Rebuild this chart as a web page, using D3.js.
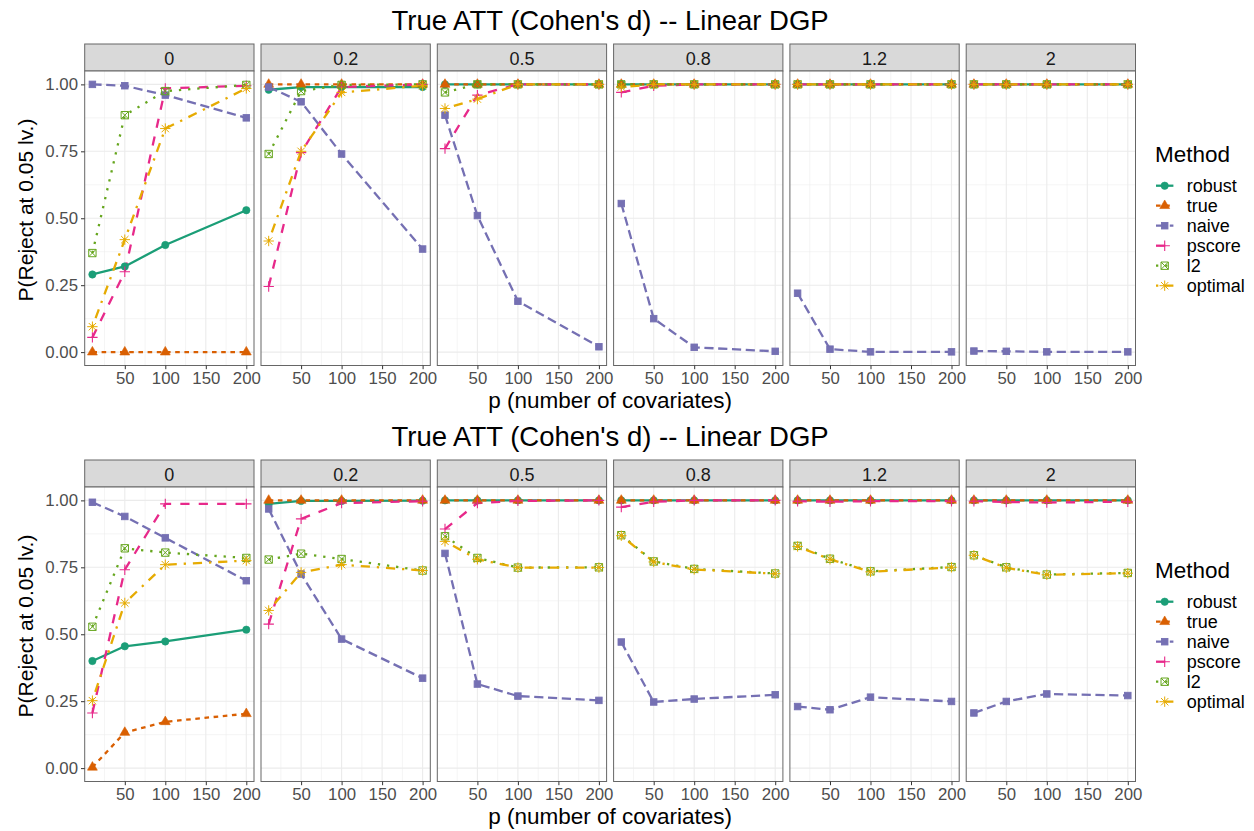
<!DOCTYPE html>
<html>
<head>
<meta charset="utf-8">
<script src="https://cdn.jsdelivr.net/npm/d3@7"></script>
<style>
  body { margin: 0; background: #ffffff; }
  svg { display: block; }
  text { font-family: "Liberation Sans", Arial, Helvetica, sans-serif; }
</style>
</head>
<body>
<svg id="chart" width="1254" height="831"></svg>
<script>
// ---- labels and categories ----
const chartTitle = "True ATT (Cohen's d) -- Linear DGP";
const xAxisTitle = "p (number of covariates)";
const yAxisTitle = "P(Reject at 0.05 lv.)";
const legendTitle = "Method";
const effectSizes = ["0", "0.2", "0.5", "0.8", "1.2", "2"];
const covariateCounts = [10, 50, 100, 200];
const xTickValues = [50, 100, 150, 200];
const xMinorValues = [25, 75, 125, 175];
const yTickValues = [0, 0.25, 0.5, 0.75, 1];
const yTickLabels = ["0.00", "0.25", "0.50", "0.75", "1.00"];
const yMinorValues = [0.125, 0.375, 0.625, 0.875];
const methods = ["robust", "true", "naive", "pscore", "l2", "optimal"];
const methodColors = ["#1B9E77", "#D95F02", "#7570B3", "#E7298A", "#66A61E", "#E6AB02"];
const methodDashes = ["solid", "22", "42", "44", "13", "1343"];
const methodShapes = ["circle", "triangle", "square", "plus", "squareX", "asterisk"];

// ---- upper figure: rejection rate, one row per effect size, one value per p ----
const upperRobust = [
  [0.29, 0.32, 0.40, 0.53],
  [0.98, 0.99, 0.99, 0.99],
  [1, 1, 1, 1], [1, 1, 1, 1], [1, 1, 1, 1], [1, 1, 1, 1]
];
const upperTrue = [
  [0, 0, 0, 0],
  [1, 1, 1, 1], [1, 1, 1, 1], [1, 1, 1, 1], [1, 1, 1, 1], [1, 1, 1, 1]
];
const upperNaive = [
  [1.00, 0.995, 0.96, 0.875],
  [0.99, 0.935, 0.74, 0.385],
  [0.885, 0.51, 0.19, 0.02],
  [0.555, 0.125, 0.018, 0.003],
  [0.22, 0.011, 0.001, 0.001],
  [0.004, 0.003, 0.001, 0.001]
];
const upperPscore = [
  [0.055, 0.30, 0.985, 0.995],
  [0.245, 0.745, 0.99, 1],
  [0.76, 0.96, 1, 1],
  [0.97, 0.995, 1, 1],
  [1, 1, 1, 1], [1, 1, 1, 1]
];
const upperL2 = [
  [0.37, 0.885, 0.975, 0.998],
  [0.74, 0.975, 0.998, 1],
  [0.97, 1, 1, 1],
  [1, 1, 1, 1], [1, 1, 1, 1], [1, 1, 1, 1]
];
const upperOptimal = [
  [0.095, 0.42, 0.835, 0.985],
  [0.415, 0.75, 0.97, 0.995],
  [0.91, 0.945, 1, 1],
  [0.99, 1, 1, 1],
  [1, 1, 1, 1], [1, 1, 1, 1]
];

// ---- lower figure ----
const lowerRobust = [
  [0.40, 0.455, 0.473, 0.517],
  [0.987, 0.998, 0.998, 0.999],
  [1, 1, 1, 1], [1, 1, 1, 1], [1, 1, 1, 1], [1, 1, 1, 1]
];
const lowerTrue = [
  [0.003, 0.133, 0.173, 0.203],
  [1, 1, 1, 1], [1, 1, 1, 1], [1, 1, 1, 1], [1, 1, 1, 1], [1, 1, 1, 1]
];
const lowerNaive = [
  [0.993, 0.94, 0.86, 0.70],
  [0.968, 0.725, 0.482, 0.336],
  [0.802, 0.314, 0.269, 0.253],
  [0.471, 0.247, 0.258, 0.274],
  [0.23, 0.218, 0.265, 0.249],
  [0.206, 0.249, 0.277, 0.271]
];
const lowerPscore = [
  [0.206, 0.741, 0.987, 0.987],
  [0.538, 0.931, 0.99, 0.997],
  [0.893, 0.99, 0.998, 1],
  [0.975, 0.995, 1, 1],
  [0.997, 0.995, 0.997, 0.997],
  [0.997, 0.994, 0.992, 0.995]
];
const lowerL2 = [
  [0.528, 0.821, 0.805, 0.785],
  [0.779, 0.801, 0.781, 0.738],
  [0.866, 0.785, 0.749, 0.75],
  [0.87, 0.772, 0.744, 0.727],
  [0.83, 0.782, 0.735, 0.751],
  [0.795, 0.75, 0.723, 0.729]
];
const lowerOptimal = [
  [0.252, 0.617, 0.76, 0.775],
  [0.589, 0.731, 0.76, 0.738],
  [0.847, 0.78, 0.749, 0.749],
  [0.868, 0.77, 0.742, 0.726],
  [0.828, 0.78, 0.733, 0.75],
  [0.795, 0.748, 0.722, 0.728]
];

const figures = [
  { offsetY: 0,   series: [upperRobust, upperTrue, upperNaive, upperPscore, upperL2, upperOptimal] },
  { offsetY: 416, series: [lowerRobust, lowerTrue, lowerNaive, lowerPscore, lowerL2, lowerOptimal] }
];

// ---- layout ----
const panelLeft = 84.7, panelW = 169.3, panelStep = 176.3;
const stripTop = 44, stripBottom = 71, panelBottom = 365.5;
const lineW = 2.3;
const shapeSize = 9.8;          // point "font size" in px
const colBorder = "#666666", colGrid = "#EBEBEB", colAxisText = "#4D4D4D";

const x = d3.scaleLinear().domain([0.5, 209.5]).range([0, panelW]);
const y = d3.scaleLinear().domain([-0.05, 1.05]).range([panelBottom, stripBottom]);

function dashArray(code) {
  if (code === "solid") return null;
  return code.split("").map(c => parseInt(c, 16) * lineW).join(" ");
}

function drawShape(g, shape, cx, cy, color) {
  const F = shapeSize;
  const s = g.append("g").attr("transform", `translate(${cx},${cy})`);
  if (shape === "circle") {
    s.append("circle").attr("r", 0.375 * F).attr("fill", color)
      .attr("stroke", color).attr("stroke-width", 0.6);
  } else if (shape === "triangle") {
    const r = 0.583 * F;
    const pts = [[0, -r], [0.866 * r, r / 2], [-0.866 * r, r / 2]];
    s.append("path").attr("d", "M" + pts.map(p => p.join(",")).join("L") + "Z")
      .attr("fill", color).attr("stroke", color).attr("stroke-width", 0.6);
  } else if (shape === "square") {
    const h = 0.3325 * F;
    s.append("rect").attr("x", -h).attr("y", -h).attr("width", 2 * h).attr("height", 2 * h)
      .attr("fill", color).attr("stroke", color).attr("stroke-width", 0.9);
  } else if (shape === "plus") {
    const h = 0.53 * F;
    s.append("path").attr("d", `M${-h},0H${h}M0,${-h}V${h}`)
      .attr("stroke", color).attr("stroke-width", 1.1).attr("fill", "none");
  } else if (shape === "squareX") {
    const h = 0.375 * F;
    s.append("path")
      .attr("d", `M${-h},${-h}H${h}V${h}H${-h}Z M${-h},${-h}L${h},${h}M${-h},${h}L${h},${-h}`)
      .attr("stroke", color).attr("stroke-width", 1).attr("fill", "none");
  } else if (shape === "asterisk") {
    const h = 0.375 * F, p = 0.53 * F;
    s.append("path")
      .attr("d", `M${-h},${-h}L${h},${h}M${-h},${h}L${h},${-h}M${-p},0H${p}M0,${-p}V${p}`)
      .attr("stroke", color).attr("stroke-width", 1).attr("fill", "none");
  }
}

const svg = d3.select("#chart");
svg.append("rect").attr("width", 1254).attr("height", 831).attr("fill", "#ffffff");

const defs = svg.append("defs");

figures.forEach((fig, fi) => {
  const fg = svg.append("g").attr("transform", `translate(0,${fig.offsetY})`);

  // title, centred on the panel area
  const panelsMid = panelLeft + (panelStep * 5 + panelW) / 2;
  fg.append("text").attr("x", panelsMid).attr("y", 30)
    .attr("text-anchor", "middle").attr("font-size", 27.5).attr("fill", "#000")
    .text(chartTitle);

  // axis titles
  fg.append("text").attr("x", panelsMid).attr("y", 407.5)
    .attr("text-anchor", "middle").attr("font-size", 22.5).attr("fill", "#000")
    .text(xAxisTitle);
  fg.append("text").attr("transform", "translate(33,210) rotate(-90)")
    .attr("text-anchor", "middle").attr("font-size", 21).attr("fill", "#000")
    .text(yAxisTitle);

  effectSizes.forEach((eff, ei) => {
    const px = panelLeft + ei * panelStep;
    const pg = fg.append("g").attr("transform", `translate(${px},0)`);

    // strip
    pg.append("rect").attr("x", 0).attr("y", stripTop).attr("width", panelW)
      .attr("height", stripBottom - stripTop).attr("fill", "#D9D9D9")
      .attr("stroke", colBorder).attr("stroke-width", 1);
    pg.append("text").attr("x", panelW / 2).attr("y", 65)
      .attr("text-anchor", "middle").attr("font-size", 18).attr("fill", "#1A1A1A")
      .text(eff);

    // panel background + grid
    pg.append("rect").attr("x", 0).attr("y", stripBottom).attr("width", panelW)
      .attr("height", panelBottom - stripBottom).attr("fill", "#ffffff");
    const grid = pg.append("g");
    xMinorValues.forEach(v => grid.append("line")
      .attr("x1", x(v)).attr("x2", x(v)).attr("y1", stripBottom).attr("y2", panelBottom)
      .attr("stroke", colGrid).attr("stroke-width", 0.55));
    yMinorValues.forEach(v => grid.append("line")
      .attr("x1", 0).attr("x2", panelW).attr("y1", y(v)).attr("y2", y(v))
      .attr("stroke", colGrid).attr("stroke-width", 0.55));
    xTickValues.forEach(v => grid.append("line")
      .attr("x1", x(v)).attr("x2", x(v)).attr("y1", stripBottom).attr("y2", panelBottom)
      .attr("stroke", colGrid).attr("stroke-width", 1.1));
    yTickValues.forEach(v => grid.append("line")
      .attr("x1", 0).attr("x2", panelW).attr("y1", y(v)).attr("y2", y(v))
      .attr("stroke", colGrid).attr("stroke-width", 1.1));

    // clip for data (in the panel group's own coordinates)
    const clipId = `clip-${fi}-${ei}`;
    defs.append("clipPath").attr("id", clipId).append("rect")
      .attr("x", 0).attr("y", stripBottom).attr("width", panelW)
      .attr("height", panelBottom - stripBottom);
    const dg = pg.append("g").attr("clip-path", `url(#${clipId})`);

    const line = d3.line().x(d => x(d.p)).y(d => y(d.v));
    // all lines first, then all points
    methods.forEach((m, mi) => {
      const pts = covariateCounts.map((p, k) => ({ p, v: fig.series[mi][ei][k] }));
      const path = dg.append("path").datum(pts).attr("d", line)
        .attr("fill", "none").attr("stroke", methodColors[mi])
        .attr("stroke-width", lineW).attr("stroke-linejoin", "round");
      const da = dashArray(methodDashes[mi]);
      if (da) path.attr("stroke-dasharray", da);
    });
    methods.forEach((m, mi) => {
      covariateCounts.forEach((p, k) => {
        drawShape(dg, methodShapes[mi], x(p), y(fig.series[mi][ei][k]), methodColors[mi]);
      });
    });

    // panel border
    pg.append("rect").attr("x", 0).attr("y", stripBottom).attr("width", panelW)
      .attr("height", panelBottom - stripBottom).attr("fill", "none")
      .attr("stroke", colBorder).attr("stroke-width", 1);

    // x axis
    const xAxis = d3.axisBottom(x).tickValues(xTickValues).tickSize(3.7).tickPadding(2.5)
      .tickFormat(d3.format("d"));
    const xa = pg.append("g").attr("transform", `translate(0,${panelBottom})`).call(xAxis);
    xa.select(".domain").remove();
    xa.selectAll(".tick line").attr("stroke", "#333333").attr("stroke-width", 1);
    xa.selectAll(".tick text").attr("font-size", 16.8).attr("fill", colAxisText)
      .attr("font-family", "Liberation Sans, Arial, sans-serif").attr("dy", "0.71em");

    // y axis on the first panel only
    if (ei === 0) {
      const yAxis = d3.axisLeft(y).tickValues(yTickValues).tickSize(3.7).tickPadding(3)
        .tickFormat((d, i) => yTickLabels[i]);
      const ya = pg.append("g").call(yAxis);
      ya.select(".domain").remove();
      ya.selectAll(".tick line").attr("stroke", "#333333").attr("stroke-width", 1);
      ya.selectAll(".tick text").attr("font-size", 16.8).attr("fill", colAxisText)
        .attr("font-family", "Liberation Sans, Arial, sans-serif");
    }
  });

  // legend
  const lg = fg.append("g");
  lg.append("text").attr("x", 1155).attr("y", 161.5).attr("font-size", 22.5)
    .attr("fill", "#000").text(legendTitle);
  methods.forEach((m, mi) => {
    const cy = 185.7 + mi * 20;
    const seg = lg.append("line").attr("x1", 1156).attr("x2", 1173.4)
      .attr("y1", cy).attr("y2", cy).attr("stroke", methodColors[mi])
      .attr("stroke-width", lineW);
    const da = dashArray(methodDashes[mi]);
    if (da) seg.attr("stroke-dasharray", da);
    drawShape(lg, methodShapes[mi], 1164.7, cy, methodColors[mi]);
    lg.append("text").attr("x", 1186.7).attr("y", cy + 6.3).attr("font-size", 18)
      .attr("fill", "#000").text(m);
  });
});
</script>
</body>
</html>
